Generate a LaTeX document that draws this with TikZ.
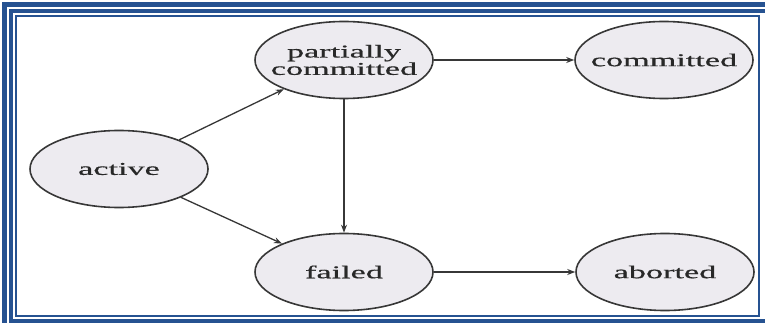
\documentclass[tikz,border=0pt]{standalone}
\usepackage{fontspec}
\setmainfont{Liberation Serif}[FakeStretch=1.9,FakeBold=0.6]
\usetikzlibrary{shapes.geometric,arrows.meta}
\definecolor{framebl}{RGB}{38,82,145}
\definecolor{statefill}{RGB}{237,235,240}
\definecolor{edgegray}{RGB}{55,55,55}
\definecolor{textgray}{RGB}{40,40,40}

\begin{document}
\begin{tikzpicture}[x=1pt,y=-1pt,
  state/.style={ellipse,draw=edgegray,line width=1.6pt,fill=statefill,
    minimum width=178pt,minimum height=77pt,inner xsep=-25pt,inner ysep=0pt,
    text=textgray,font=\fontsize{18}{15.5}\selectfont,align=center},
  trans/.style={draw=edgegray,line width=1.3pt,-{Stealth[length=8pt,width=6pt]}},
  band/.style={draw=framebl}]
\useasboundingbox (0,0) rectangle (765,323);
\fill[white] (0,0) rectangle (765,323);

% triple frame
\draw[band,line width=5pt] (4.5,5) rectangle (790,345);
\draw[band,line width=4pt] (11,11.5) rectangle (768,321);
\draw[band,line width=2pt] (16,16) rectangle (759,316);

% states
\node[state] (act)  at (119,169) {active};
\node[state] (pc)   at (344,60)  {partially\\committed};
\node[state] (com)  at (664,60)  {committed};
\node[state] (fail) at (344,272) {failed};
\node[state] (abo)  at (665,272) {aborted};

% transitions
\draw[trans] (act) -- (pc);
\draw[trans] (act) -- (fail);
\draw[trans] (pc) -- (fail);
\draw[trans] (pc) -- (com);
\draw[trans] (fail) -- (abo);
\end{tikzpicture}
\end{document}
